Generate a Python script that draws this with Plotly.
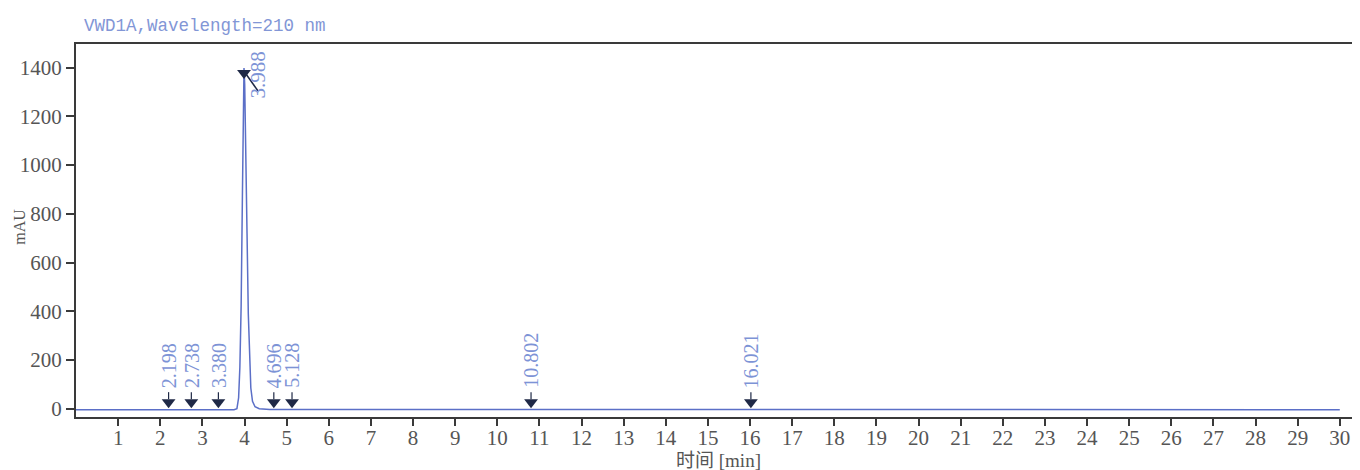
import plotly.graph_objects as go

# ---- data ----
trace_time = [0.0, 3.75, 3.82, 3.86, 3.89, 3.92, 3.95, 3.97, 3.988, 4.005, 4.03, 4.06,
              4.09, 4.12, 4.15, 4.19, 4.25, 4.35, 4.6, 30.0]
trace_mau = [-4, -4, 0, 45, 170, 420, 870, 1200, 1398, 1330, 1110, 720,
             390, 190, 85, 30, 8, 0, -3, -4]

peak_times = [2.198, 2.738, 3.380, 3.988, 4.696, 5.128, 10.802, 16.021]
peak_labels = ["2.198", "2.738", "3.380", "3.988", "4.696", "5.128", "10.802", "16.021"]
marker_level = [27, 27, 27, 1378, 27, 27, 27, 27]

x_ticks = list(range(1, 31))
y_ticks = [0, 200, 400, 600, 800, 1000, 1200, 1400]

title_text = "VWD1A,Wavelength=210 nm"
x_title = "时间 [min]"
y_title = "mAU"

# ---- styles ----
LINE_C = "#5b6fc7"
LABEL_C = "#7d93d6"
TRI_C = "#1f2946"
AX_C = "#3a3a3a"
TXT_C = "#555555"
SERIF = "Liberation Serif, Noto Sans CJK SC, serif"

fig = go.Figure()
fig.add_trace(go.Scatter(x=trace_time, y=trace_mau, mode="lines",
                         line=dict(color=LINE_C, width=1.5), hoverinfo="skip",
                         showlegend=False))
fig.add_trace(go.Scatter(x=peak_times, y=marker_level, mode="markers",
                         marker=dict(symbol="triangle-down", size=12, color=TRI_C),
                         showlegend=False, hoverinfo="skip"))

for t, lab, lvl in zip(peak_times, peak_labels, marker_level):
    if lvl > 700:
        # leader line for the big peak
        fig.add_shape(type="line", xref="x", yref="y", xsizemode="pixel", ysizemode="pixel",
                      xanchor=t, yanchor=lvl, x0=2, y0=-1, x1=14, y1=-18,
                      line=dict(color=TRI_C, width=1.5))
        fig.add_annotation(x=t, y=lvl, xref="x", yref="y", text=lab, textangle=-90,
                           showarrow=False, xanchor="center", yanchor="bottom",
                           xshift=14, yshift=-28,
                           font=dict(family=SERIF, size=21, color=LABEL_C))
    else:
        fig.add_shape(type="line", xref="x", yref="y", xsizemode="pixel", ysizemode="pixel",
                      xanchor=t, yanchor=lvl, x0=0, y0=3, x1=0, y1=10,
                      line=dict(color=TRI_C, width=1.2))
        fig.add_annotation(x=t, y=lvl, xref="x", yref="y", text=lab, textangle=-90,
                           showarrow=False, xanchor="center", yanchor="bottom",
                           yshift=12,
                           font=dict(family=SERIF, size=20, color=LABEL_C))

# chart title (top-left)
fig.add_annotation(text=title_text, xref="paper", yref="paper", x=0, y=1.0,
                   xanchor="left", yanchor="middle", xshift=6, yshift=18, showarrow=False,
                   font=dict(family="Liberation Mono, monospace", size=17.5, color="#8296d6"))
# axis titles
fig.add_annotation(text=x_title, xref="paper", yref="paper", x=0.5, y=0, xanchor="center",
                   yanchor="top", yshift=-31, showarrow=False,
                   font=dict(family=SERIF, size=19, color=TXT_C))
fig.add_annotation(text=y_title, xref="paper", yref="paper", x=0, y=0.51, xanchor="center",
                   yanchor="middle", xshift=-56, textangle=-90, showarrow=False,
                   font=dict(family=SERIF, size=16, color=TXT_C))

fig.update_layout(
    width=1360, height=470,
    margin=dict(l=68, r=8, t=36, b=61),
    paper_bgcolor="white", plot_bgcolor="white",
    showlegend=False,
    xaxis=dict(range=[0, 30.48], tickvals=x_ticks, ticktext=[str(v) for v in x_ticks],
               ticks="outside", ticklen=7, tickwidth=1.5, tickcolor=AX_C,
               showline=True, linecolor=AX_C, linewidth=2, mirror=True,
               showgrid=False, zeroline=False, ticklabelstandoff=-6,
               tickfont=dict(family=SERIF, size=21, color=TXT_C)),
    yaxis=dict(range=[-34, 1497], tickvals=y_ticks,
               ticks="outside", ticklen=8, tickwidth=1.5, tickcolor=AX_C,
               showline=True, linecolor=AX_C, linewidth=2,
               showgrid=False, zeroline=False,
               tickfont=dict(family=SERIF, size=21, color=TXT_C)),
)

fig.write_html("out.html")
